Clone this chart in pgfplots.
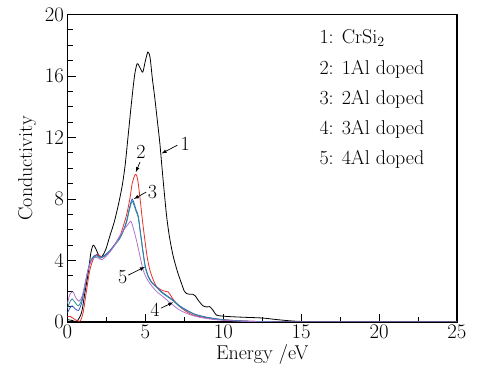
\documentclass[border=0pt]{standalone}
\usepackage{pgfplots}
\pgfplotsset{compat=1.18}
\definecolor{cred}{HTML}{E8302A}
\definecolor{cblue}{HTML}{3355CC}
\definecolor{cteal}{HTML}{2A8F96}
\definecolor{cpurp}{HTML}{B070D0}
\begin{document}
\begin{tikzpicture}
\begin{axis}[name=ax,
  scale only axis, width=389.5pt, height=307.5pt,
  xmin=0, xmax=25, ymin=0, ymax=20,
  xtick={0,5,...,25}, ytick={0,4,...,20},
  minor xtick={2.5,7.5,...,22.5}, minor ytick={1,2,...,19},
  tick pos=left, tick align=inside,
  major tick length=8pt, minor tick length=5pt,
  every tick/.style={black, line width=0.9pt},
  axis line style={line width=1.1pt},
  tick label style={font=\fontsize{20}{24}\selectfont},
  label style={font=\fontsize{20}{24}\selectfont},
  xlabel={Energy /eV}, ylabel={Conductivity},
  xlabel style={yshift=1pt}, ylabel style={yshift=2pt},
  every axis plot/.append style={line width=0.8pt, smooth, tension=0.45},
  clip=true,
]
\addplot[black] coordinates {(0,0.15)(0.3,0.1)(0.6,0.05)(0.9,0.6)(1.1,1.8)(1.33,3.2)(1.5,4.5)(1.65,5.0)(1.8,4.8)(2.0,4.35)(2.2,4.25)(2.45,4.7)(2.72,5.6)(3.0,6.5)(3.26,7.6)(3.5,8.8)(3.7,10.2)(3.9,12.2)(4.1,14.2)(4.3,16.0)(4.47,16.8)(4.65,16.55)(4.83,16.25)(5.0,17.0)(5.16,17.56)(5.3,17.2)(5.45,15.8)(5.6,14.6)(5.8,12.8)(5.93,11.6)(6.14,9.2)(6.36,6.9)(6.55,5.5)(6.78,4.3)(7.05,3.3)(7.32,2.5)(7.5,2.0)(7.64,1.85)(7.85,1.8)(8.05,1.8)(8.2,1.7)(8.4,1.4)(8.7,1.05)(8.95,0.98)(9.13,1.0)(9.35,0.75)(9.56,0.45)(10.0,0.38)(10.6,0.34)(11.5,0.3)(12.5,0.26)(13.5,0.15)(14.5,0.06)(15.5,0.02)(17,0)(25,0)};
\addplot[cred] coordinates {(0,0.35)(0.2,0.35)(0.5,0.15)(0.8,0.05)(1.0,0.6)(1.2,1.9)(1.4,3.2)(1.55,3.8)(1.75,4.3)(1.95,4.4)(2.15,4.25)(2.4,4.3)(2.72,4.6)(3.0,5.0)(3.37,5.6)(3.6,6.3)(3.8,7.0)(4.0,8.0)(4.15,9.0)(4.3,9.5)(4.39,9.6)(4.5,9.3)(4.65,8.1)(4.8,6.7)(4.97,5.3)(5.12,4.2)(5.29,3.37)(5.5,2.75)(5.72,2.3)(6.0,2.1)(6.25,2.0)(6.46,1.96)(6.7,1.6)(6.95,1.25)(7.2,1.0)(7.6,0.7)(8.06,0.45)(9,0.25)(10,0.15)(11,0.08)(12,0.04)(13,0.02)(14,0)(25,0)};
\addplot[cblue] coordinates {(0,0.6)(0.15,0.9)(0.3,1.05)(0.5,0.85)(0.7,0.75)(0.9,1.2)(1.1,2.2)(1.3,3.3)(1.5,4.0)(1.7,4.3)(1.9,4.35)(2.1,4.2)(2.4,4.35)(2.72,4.65)(3.0,5.0)(3.37,5.5)(3.6,6.0)(3.8,6.6)(3.95,7.3)(4.1,7.9)(4.15,8.0)(4.25,7.8)(4.4,7.3)(4.54,6.9)(4.7,5.7)(4.86,4.5)(5.0,3.6)(5.18,3.0)(5.4,2.6)(5.72,2.28)(6.0,2.0)(6.4,1.7)(6.78,1.42)(7.2,1.05)(7.64,0.78)(8.2,0.5)(9,0.3)(10,0.15)(11,0.08)(12,0.04)(13,0.02)(14,0)(25,0)};
\addplot[cteal] coordinates {(0,0.9)(0.15,1.3)(0.3,1.5)(0.5,1.25)(0.7,1.05)(0.9,1.4)(1.1,2.3)(1.3,3.3)(1.5,3.95)(1.7,4.25)(1.9,4.3)(2.1,4.15)(2.4,4.3)(2.72,4.6)(3.0,4.95)(3.37,5.45)(3.6,5.95)(3.8,6.5)(3.95,7.2)(4.1,7.75)(4.17,7.85)(4.27,7.6)(4.4,7.2)(4.54,6.8)(4.7,5.6)(4.86,4.4)(5.0,3.5)(5.18,2.93)(5.4,2.55)(5.72,2.25)(6.0,1.95)(6.4,1.65)(6.78,1.38)(7.2,1.0)(7.64,0.74)(8.2,0.48)(9,0.28)(10,0.14)(11,0.07)(12,0.03)(13,0.01)(14,0)(25,0)};
\addplot[cpurp] coordinates {(0,1.2)(0.15,1.8)(0.35,1.96)(0.55,1.55)(0.75,1.35)(0.95,1.7)(1.15,2.6)(1.35,3.5)(1.55,4.0)(1.75,4.2)(2.0,4.15)(2.2,4.05)(2.5,4.3)(2.72,4.55)(3.0,4.95)(3.3,5.5)(3.58,5.95)(3.85,6.3)(4.07,6.55)(4.25,6.0)(4.43,5.3)(4.65,4.3)(4.86,3.37)(5.05,2.9)(5.29,2.5)(5.7,2.0)(6.14,1.64)(6.7,1.15)(7.2,0.78)(7.8,0.5)(8.5,0.3)(9.5,0.15)(10.5,0.08)(12,0.03)(13,0)(25,0)};
% annotations
\node[font=\fontsize{20}{24}\selectfont] at (axis cs:7.55,11.6) {1};
\draw[-latex, line width=0.7pt] (axis cs:7.05,11.5) -- (axis cs:6.04,10.96);
\node[font=\fontsize{20}{24}\selectfont] at (axis cs:4.71,11.05) {2};
\draw[-latex, line width=0.7pt] (axis cs:4.65,10.4) -- (axis cs:4.39,9.75);
\node[font=\fontsize{20}{24}\selectfont] at (axis cs:5.45,8.45) {3};
\draw[-latex, line width=0.7pt] (axis cs:5.05,8.45) -- (axis cs:4.26,8.0);
\node[font=\fontsize{20}{24}\selectfont] at (axis cs:5.62,0.8) {4};
\draw[-latex, line width=0.7pt] (axis cs:6.0,0.9) -- (axis cs:6.78,1.28);
\node[font=\fontsize{20}{24}\selectfont] at (axis cs:3.55,2.93) {5};
\draw[-latex, line width=0.7pt] (axis cs:3.9,3.05) -- (axis cs:4.97,3.58);
% legend text
\begin{scope}[every node/.style={anchor=west, font=\fontsize{20}{24}\selectfont}]
\node at (axis cs:15.95,18.45) {1: CrSi\textsubscript{2}};
\node at (axis cs:15.95,16.45) {2: 1Al doped};
\node at (axis cs:15.95,14.45) {3: 2Al doped};
\node at (axis cs:15.95,12.5) {4: 3Al doped};
\node at (axis cs:15.95,10.55) {5: 4Al doped};
\end{scope}
\end{axis}
\pgfresetboundingbox
\path ([xshift=-67.5pt,yshift=-55pt]ax.south west) rectangle ([xshift=30pt,yshift=14.5pt]ax.north east);
\end{tikzpicture}
\end{document}
